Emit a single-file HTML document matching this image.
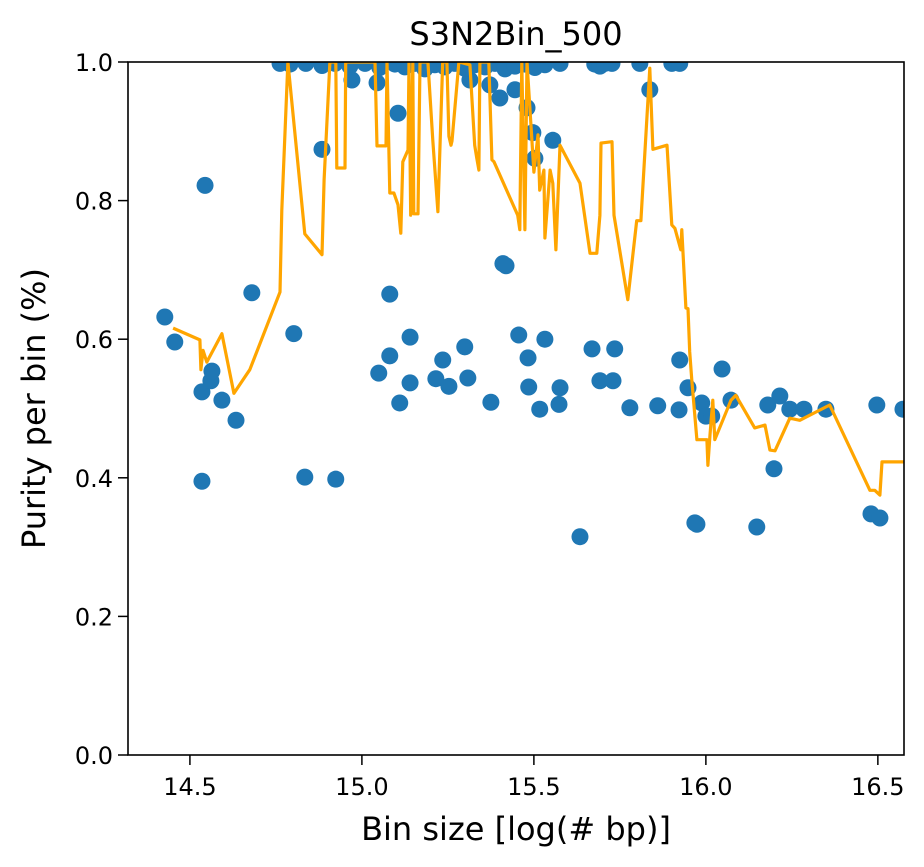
<!DOCTYPE html>
<html><head><meta charset="utf-8"><style>
html,body{margin:0;padding:0;background:#fff;}
svg{display:block;font-family:"DejaVu Sans","Liberation Sans",sans-serif;}
</style></head><body>
<svg id="chart" width="924" height="867">
<rect width="924" height="867" fill="#fff"/>
<g id="plot"></g>
<g id="axes"></g>
</svg>
<script>
const scatterX=[14.427,14.456,14.544,14.535,14.535,14.561,14.564,14.593,14.634,14.680,14.802,14.834,14.884,14.924,15.049,15.081,15.081,15.110,15.140,15.140,15.215,15.235,15.253,15.299,15.308,15.410,15.419,15.375,15.456,15.485,15.483,15.517,15.532,15.573,15.576,15.634,15.669,15.692,15.730,15.735,15.779,15.860,15.922,15.924,15.948,15.968,15.974,15.988,16.000,16.017,16.047,16.073,16.148,16.180,16.198,16.215,16.244,16.285,16.349,16.480,16.506,16.497,16.573,
15.044,14.971,15.105,15.401,15.480,15.497,15.555,15.503,15.837,15.372,15.314,15.445,
14.762,14.791,14.837,14.884,14.922,14.965,15.009,15.052,15.096,15.125,15.154,15.183,15.212,15.241,15.270,15.299,15.328,15.358,15.387,15.416,15.445,15.474,15.503,15.532,15.576,15.677,15.692,15.706,15.727,15.808,15.901,15.924];
const scatterY=[0.632,0.596,0.822,0.524,0.395,0.540,0.554,0.512,0.483,0.667,0.608,0.401,0.874,0.398,0.551,0.576,0.665,0.508,0.603,0.537,0.543,0.570,0.532,0.589,0.544,0.709,0.706,0.509,0.606,0.531,0.573,0.499,0.600,0.506,0.530,0.315,0.586,0.540,0.540,0.586,0.501,0.504,0.498,0.570,0.530,0.335,0.333,0.508,0.489,0.489,0.557,0.512,0.329,0.505,0.413,0.518,0.499,0.499,0.499,0.348,0.342,0.505,0.499,
0.970,0.974,0.926,0.948,0.934,0.898,0.887,0.861,0.960,0.967,0.974,0.960,
0.998,0.997,0.998,0.995,0.998,0.994,0.998,0.992,0.997,0.993,0.998,0.990,0.996,0.993,0.998,0.991,0.996,0.993,0.998,0.990,0.994,0.997,0.992,0.996,0.998,0.997,0.994,0.998,0.998,0.998,0.998,0.998];
const lineX=[14.451,14.529,14.532,14.538,14.549,14.593,14.628,14.674,14.762,14.767,14.785,14.834,14.884,14.890,14.907,14.924,14.927,14.951,14.953,15.038,15.044,15.070,15.073,15.081,15.093,15.105,15.113,15.119,15.134,15.137,15.142,15.148,15.151,15.163,15.169,15.192,15.206,15.221,15.235,15.247,15.253,15.259,15.262,15.282,15.314,15.328,15.334,15.340,15.343,15.369,15.378,15.384,15.453,15.459,15.465,15.474,15.480,15.500,15.512,15.517,15.529,15.532,15.547,15.555,15.564,15.576,15.634,15.663,15.683,15.692,15.695,15.727,15.733,15.773,15.799,15.811,15.837,15.846,15.887,15.901,15.910,15.927,15.930,15.942,15.948,15.953,15.959,15.974,16.003,16.006,16.012,16.020,16.026,16.073,16.087,16.142,16.172,16.186,16.201,16.244,16.273,16.360,16.477,16.491,16.506,16.512,16.576];
const lineY=[0.616,0.599,0.556,0.584,0.567,0.608,0.522,0.556,0.668,0.786,1.0,0.752,0.722,0.830,1.0,1.0,0.847,0.847,1.0,1.0,0.879,0.879,1.0,0.811,0.811,0.794,0.753,0.856,0.873,1.0,0.779,1.0,0.781,0.781,1.0,1.0,0.887,0.784,1.0,1.0,0.893,0.880,0.886,1.0,0.996,0.880,0.861,0.844,1.0,1.0,0.859,0.856,0.779,0.758,1.0,0.758,1.0,0.841,0.895,0.815,0.844,0.746,0.844,0.825,0.729,0.880,0.825,0.724,0.724,0.779,0.883,0.885,0.779,0.657,0.771,0.771,0.991,0.874,0.880,0.765,0.760,0.729,0.758,0.645,0.644,0.582,0.541,0.455,0.455,0.418,0.462,0.512,0.455,0.512,0.519,0.472,0.476,0.440,0.439,0.486,0.483,0.505,0.382,0.382,0.375,0.423,0.423];
const xTicks=[14.5,15.0,15.5,16.0,16.5];
const yTicks=[0.0,0.2,0.4,0.6,0.8,1.0];

const L=128,T=62,R=904,B=755;
const XMIN=14.32,XMAX=16.576,YMIN=0,YMAX=1;
const sx=v=>L+(v-XMIN)/(XMAX-XMIN)*(R-L);
const sy=v=>B-(v-YMIN)/(YMAX-YMIN)*(B-T);
const NS="http://www.w3.org/2000/svg";
const plot=document.getElementById('plot'), axes=document.getElementById('axes');
function mk(tag,attrs,parent){const e=document.createElementNS(NS,tag);for(const k in attrs)e.setAttribute(k,attrs[k]);parent.appendChild(e);return e;}

const defs=mk('defs',{},plot);
const cp=mk('clipPath',{id:'clip'},defs);
mk('rect',{x:L,y:T,width:R-L,height:B-T},cp);
const g=mk('g',{'clip-path':'url(#clip)'},plot);
for(let i=0;i<scatterX.length;i++){
  const c=mk('circle',{cx:sx(scatterX[i]),cy:sy(scatterY[i]),r:8.5,fill:'#1f77b4'},g);
  
  
}
const pts=lineX.map((x,i)=>sx(x).toFixed(1)+','+sy(lineY[i]).toFixed(1)).join(' ');
const pl=mk('polyline',{points:pts,fill:'none',stroke:'#ffa500','stroke-width':3.2,'stroke-linejoin':'round'},g);



const frame=mk('rect',{x:L,y:T,width:R-L,height:B-T,fill:'none',stroke:'#000','stroke-width':1.6},axes);


xTicks.forEach(v=>{
  const x=sx(v);
  mk('line',{x1:x,x2:x,y1:B,y2:B+10,stroke:'#000','stroke-width':1.5},axes);
  const t=mk('text',{x:x,y:B+40,'text-anchor':'middle','font-size':24,fill:'#000'},axes);
  t.textContent=v.toFixed(1);
  
  
});
yTicks.forEach(v=>{
  const y=sy(v);
  mk('line',{x1:L-10,x2:L,y1:y,y2:y,stroke:'#000','stroke-width':1.5},axes);
  const t=mk('text',{x:L-15,y:y+9,'text-anchor':'end','font-size':24,fill:'#000'},axes);
  t.textContent=v.toFixed(1);
  
  
});
const title=mk('text',{x:(L+R)/2,y:45,'text-anchor':'middle','font-size':32,fill:'#000'},axes);
title.textContent='S3N2Bin_500';


const xl=mk('text',{x:(L+R)/2,y:840,'text-anchor':'middle','font-size':32,fill:'#000'},axes);
xl.textContent='Bin size [log(# bp)]';


const yl=mk('text',{x:0,y:0,'text-anchor':'middle','font-size':32,fill:'#000',transform:'translate(45,'+((T+B)/2)+') rotate(-90)'},axes);
yl.textContent='Purity per bin (%)';


</script>
</body></html>
